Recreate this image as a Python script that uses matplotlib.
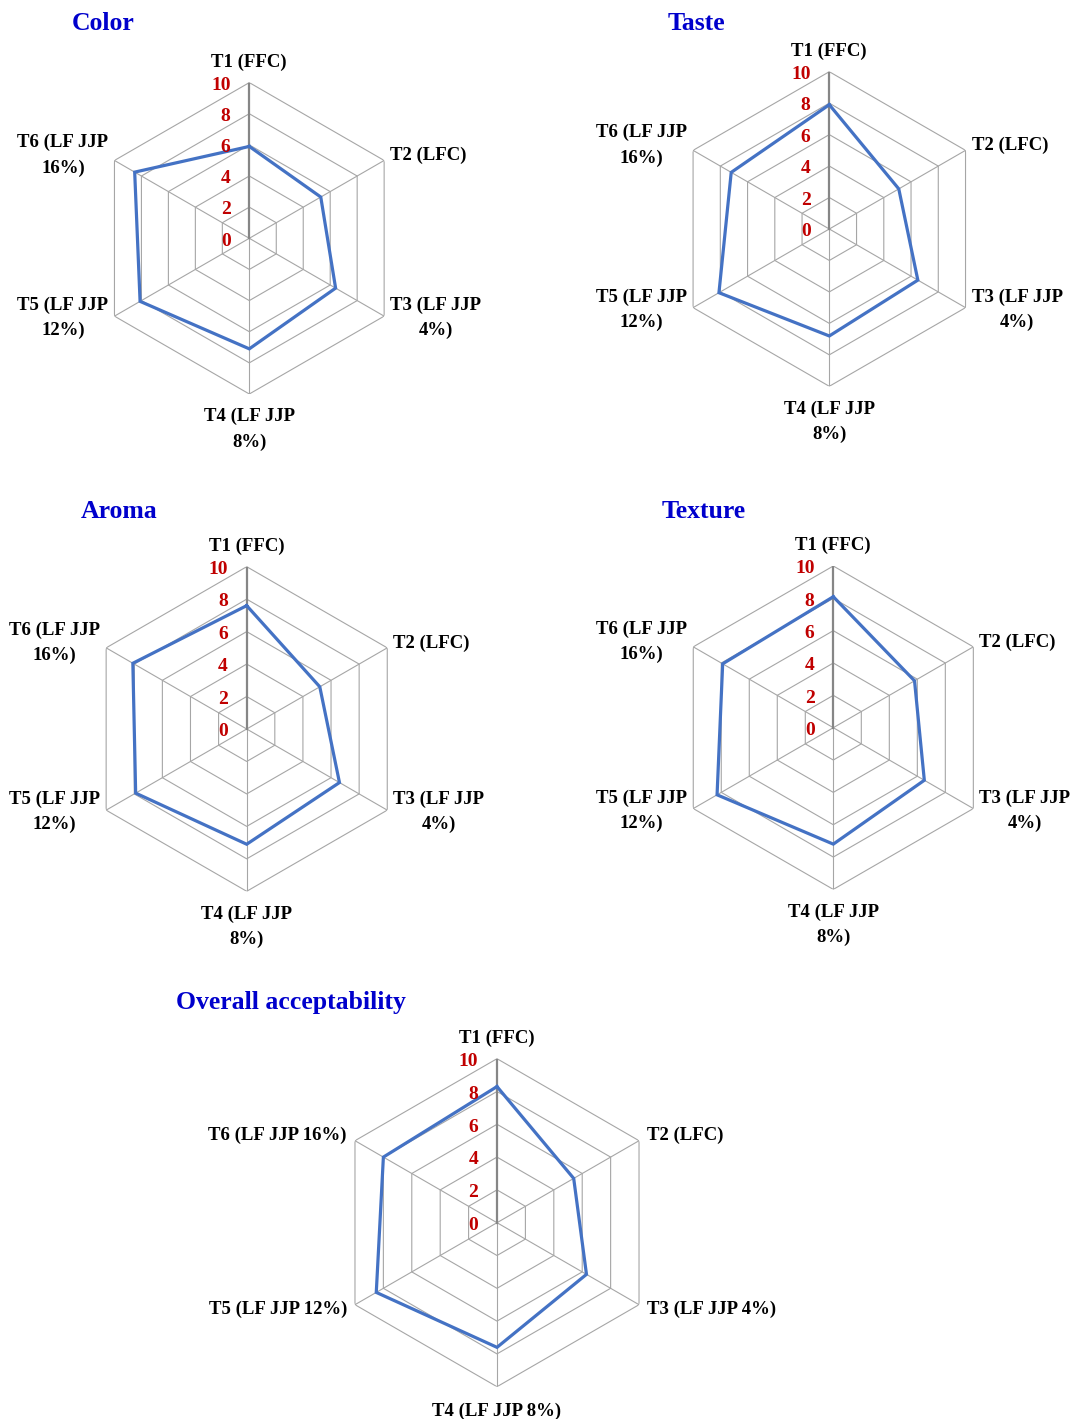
import numpy as np
import matplotlib
matplotlib.use('Agg')
import matplotlib.pyplot as plt

W, H = 1074, 1419
SERIF = ['Liberation Serif', 'DejaVu Serif']

# ---------------- data ----------------
labels_two_line = ['T1 (FFC)', 'T2 (LFC)', 'T3 (LF JJP\n4%)', 'T4 (LF JJP\n8%)',
                   'T5 (LF JJP\n12%)', 'T6 (LF JJP\n16%)']
labels_one_line = ['T1 (FFC)', 'T2 (LFC)', 'T3 (LF JJP 4%)', 'T4 (LF JJP 8%)',
                   'T5 (LF JJP 12%)', 'T6 (LF JJP 16%)']
color_scores = [5.9, 5.3, 6.4, 7.1, 8.1, 8.5]
taste_scores = [7.9, 5.1, 6.5, 6.8, 8.1, 7.2]
aroma_scores = [7.6, 5.2, 6.6, 7.1, 7.9, 8.1]
texture_scores = [8.1, 5.8, 6.5, 7.2, 8.3, 7.9]
overall_scores = [8.3, 5.4, 6.3, 7.6, 8.5, 8.0]
tick_values = [0, 2, 4, 6, 8, 10]
tick_labels = ['0', '2', '4', '6', '8', '10']
titles = ['Color', 'Taste', 'Aroma', 'Texture', 'Overall acceptability']

# layout (pixels): centre x, centre y, radius, title x, title y
panels = [
    (titles[0], color_scores, labels_two_line, 249.3, 238.3, 155.7, 103, 23),
    (titles[1], taste_scores, labels_two_line, 829.3, 229.0, 157.3, 696, 23),
    (titles[2], aroma_scores, labels_two_line, 246.7, 729.0, 162.3, 119, 512),
    (titles[3], texture_scores, labels_two_line, 833.3, 727.7, 161.7, 704, 512),
    (titles[4], overall_scores, labels_one_line, 497.0, 1222.7, 164.0, 291, 1003),
]

PX = 0.72  # points per pixel at dpi 100

fig = plt.figure(figsize=(W / 100, H / 100), dpi=100)
fig.patch.set_facecolor('white')

n = len(labels_two_line)
theta = np.linspace(0, 2 * np.pi, n, endpoint=False)
theta_closed = np.append(theta, theta[0])

grid_col = '#A6A6A6'
axis_col = '#868686'
line_col = '#4472C4'
tick_col = '#C00000'
title_col = '#0000CC'

for title, vals, cats, cx, cy, R, tx, ty in panels:
    ax = fig.add_axes([(cx - R) / W, 1 - (cy + R) / H, 2 * R / W, 2 * R / H],
                      projection='polar')
    ax.set_theta_zero_location('N')
    ax.set_theta_direction(-1)
    ax.set_ylim(0, 10)
    ax.grid(False)
    ax.spines['polar'].set_visible(False)
    ax.set_xticks([])
    ax.set_yticks([])
    ax.patch.set_visible(False)

    # hexagonal grid
    for lv in tick_values[1:]:
        ax.plot(theta_closed, [lv] * (n + 1), color=grid_col, lw=0.8, zorder=1)
    for i, t in enumerate(theta):
        if i == 0:
            ax.plot([t, t], [0, 10], color=axis_col, lw=1.6, zorder=1.5)
        else:
            ax.plot([t, t], [0, 10], color=grid_col, lw=0.8, zorder=1)

    # data
    v = list(vals) + [vals[0]]
    ax.plot(theta_closed, v, color=line_col, lw=2.3, zorder=3, clip_on=False,
            solid_joinstyle='miter')

    # radial tick labels
    for lv, lab in zip(tick_values, tick_labels):
        ax.annotate(lab, xy=(0, lv), xytext=(-13.5, -2), textcoords='offset points',
                    ha='right', va='center', color=tick_col, fontsize=14,
                    fontweight='bold', family=SERIF, zorder=4)

    one_line = '\n' not in cats[2]
    if one_line:
        side, up, low, down = 8, 5, -5, -16
    else:
        side, up, low, down = 6, 5, -2, -14
    offsets = [
        ((0, 12), 'center', 'bottom'),
        ((side, up), 'left', 'center'),
        ((side, low), 'left', 'center'),
        ((0, down), 'center', 'top'),
        ((-side, low), 'right', 'center'),
        ((-side, up), 'right', 'center'),
    ]
    for t, lab, (off, ha, va) in zip(theta, cats, offsets):
        ax.annotate(lab, xy=(t, 10), xytext=(off[0] * PX, off[1] * PX),
                    textcoords='offset points', ha=ha, va=va, multialignment='center',
                    fontsize=13.5, fontweight='bold', family=SERIF, color='black',
                    linespacing=1.6, annotation_clip=False)

    fig.text(tx / W, 1 - ty / H, title, ha='center', va='center', color=title_col,
             fontsize=18.5, fontweight='bold', family=SERIF)

fig.savefig('out.png', dpi=100, facecolor='white')
